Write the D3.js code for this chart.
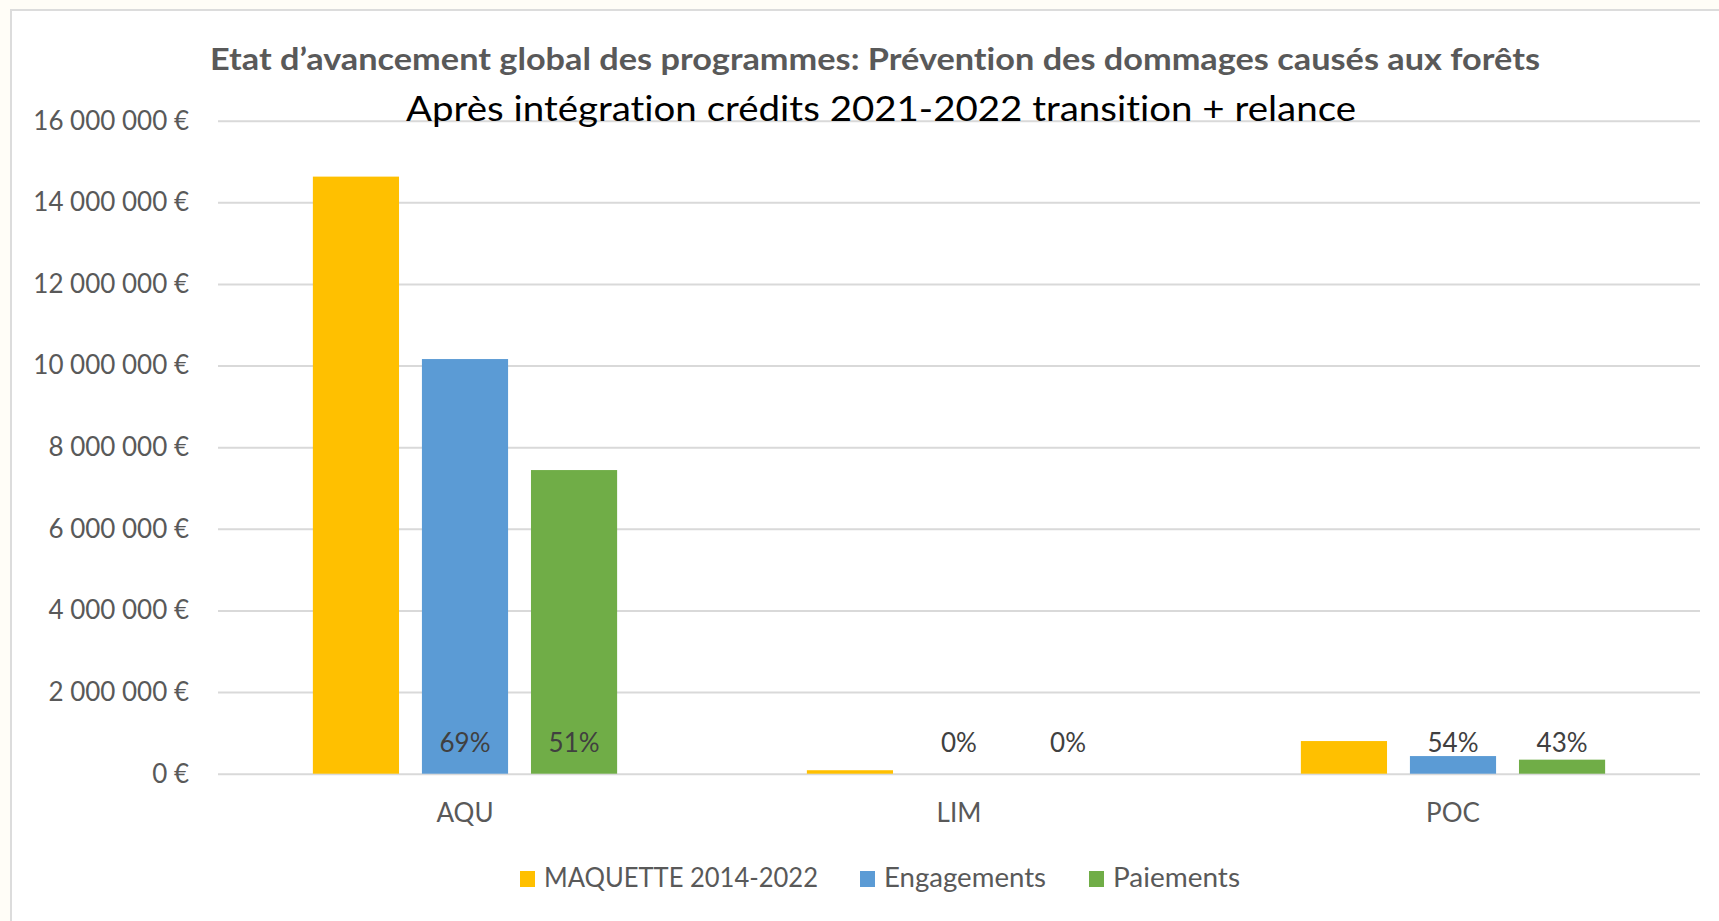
<!DOCTYPE html>
<html>
<head>
<meta charset="utf-8">
<script src="https://cdn.jsdelivr.net/npm/d3@7"></script>
<style>
  html, body { margin: 0; padding: 0; background: #fffdf7; }
  svg { display: block; }
  text { font-family: Lato, "Open Sans", sans-serif; font-variant-ligatures: none; }
</style>
</head>
<body>
<div id="chart"></div>
<script>
// chart data
var categories = ['AQU', 'LIM', 'POC']
var series = ['MAQUETTE 2014-2022', 'Engagements', 'Paiements']
var maquette = [14630000, 85000, 800000]
var engagements = [10160000, 0, 432000]
var paiements = [7440000, 0, 344000]
var yTicks = [0, 2000000, 4000000, 6000000, 8000000, 10000000, 12000000, 14000000, 16000000]
var colors = ['#ffc000', '#5b9bd5', '#70ad47']

var title = 'Etat d\u2019avancement global des programmes: Pr\u00e9vention des dommages caus\u00e9s aux for\u00eats'
var subtitle = 'Apr\u00e8s int\u00e9gration cr\u00e9dits 2021-2022 transition + relance'

// set dimensions
var W = 1719, H = 921
var plot = { left: 218, right: 1700, top: 120.7, bottom: 773.7 }

var svg = d3.select('#chart')
    .append('svg')
    .attr('width', W)
    .attr('height', H)

// white chart box with light border
svg.append('rect')
    .attr('x', 11)
    .attr('y', 10)
    .attr('width', W)
    .attr('height', H)
    .style('fill', '#fff')
    .style('stroke', '#dcdcdc')
    .style('stroke-width', 2)

// squeeze a text to a given width
function fit(sel, width) {
    var len = sel.node().getComputedTextLength()
    if (Math.abs(len - width) > 1) {
        sel.attr('textLength', width).attr('lengthAdjust', 'spacingAndGlyphs')
    }
    return sel
}

// scales
var x = d3.scaleBand()
    .domain(categories)
    .range([plot.left, plot.right])
var x1 = d3.scaleBand()
    .domain(series)
    .range([0, x.bandwidth()])
    .paddingInner(0.21)
    .paddingOuter(0.87)
var y = d3.scaleLinear()
    .domain([0, 16000000])
    .range([plot.bottom, plot.top])

var fr = d3.formatLocale({ decimal: ',', thousands: '\u00a0', grouping: [3], currency: ['', '\u00a0\u20ac'] })
var euro = fr.format('$,.0f')

// y axis with gridlines
var gy = svg.append('g')
    .attr('transform', 'translate(' + plot.left + ',0)')
    .call(d3.axisLeft(y)
        .tickValues(yTicks)
        .tickFormat(euro)
        .tickSizeInner(-(plot.right - plot.left))
        .tickSizeOuter(0)
        .tickPadding(29))
gy.select('.domain').remove()
gy.selectAll('.tick line')
    .style('stroke', '#d9d9d9')
    .style('stroke-width', 2)
gy.selectAll('.tick text')
    .style('fill', '#595959')
    .style('font-size', '26px')

// x axis labels
var gx = svg.append('g')
    .attr('transform', 'translate(0,' + plot.bottom + ')')
    .call(d3.axisBottom(x).tickSize(0).tickPadding(30))
gx.select('.domain').remove()
gx.selectAll('.tick text')
    .style('fill', '#595959')
    .style('font-size', '26px')

// table for the bars
var rows = categories.map(function (c, i) {
    return { cat: c, values: [maquette[i], engagements[i], paiements[i]] }
})

var groups = svg.selectAll('.group')
    .data(rows)
    .enter().append('g')
    .attr('class', 'group')
    .attr('transform', function (d) { return 'translate(' + x(d.cat) + ',0)' })

groups.selectAll('rect')
    .data(function (d) { return d.values.map(function (v, j) { return { s: series[j], v: v, j: j } }) })
    .enter().append('rect')
    .attr('x', function (d) { return x1(d.s) })
    .attr('width', x1.bandwidth())
    .attr('y', function (d) { return y(d.v) })
    .attr('height', function (d) { return y(0) - y(d.v) })
    .style('fill', function (d) { return colors[d.j] })

// percentage labels for engagements and paiements
groups.selectAll('.pct')
    .data(function (d) {
        return d.values.slice(1).map(function (v, j) { return { s: series[j + 1], pct: Math.round(v / d.values[0] * 100) } })
    })
    .enter().append('text')
    .attr('class', 'pct')
    .attr('x', function (d) { return x1(d.s) + x1.bandwidth() / 2 })
    .attr('y', y(0) - 22)
    .style('text-anchor', 'middle')
    .style('fill', '#404040')
    .style('font-size', '26px')
    .text(function (d) { return d.pct + '%' })

// titles
fit(svg.append('text')
    .attr('x', 875)
    .attr('y', 70)
    .style('text-anchor', 'middle')
    .style('font-weight', 'bold')
    .style('fill', '#595959')
    .style('font-size', '31px')
    .text(title), 1330)

fit(svg.append('text')
    .attr('x', 881)
    .attr('y', 121)
    .style('text-anchor', 'middle')
    .style('fill', '#000')
    .style('font-size', '34px')
    .text(subtitle), 950)

// legend
var legendX = [520, 860, 1089]
var legendW = [274, 162, 127]
var legend = svg.selectAll('.legend')
    .data(series)
    .enter().append('g')
    .attr('class', 'legend')
    .attr('transform', function (d, i) { return 'translate(' + legendX[i] + ',0)' })
legend.append('rect')
    .attr('x', 0)
    .attr('y', 871)
    .attr('width', 15)
    .attr('height', 16)
    .style('fill', function (d, i) { return colors[i] })
legend.append('text')
    .attr('x', 24)
    .attr('y', 887)
    .style('fill', '#595959')
    .style('font-size', '26px')
    .text(function (d) { return d })
    .each(function (d, i) { fit(d3.select(this), legendW[i]) })
</script>
</body>
</html>
